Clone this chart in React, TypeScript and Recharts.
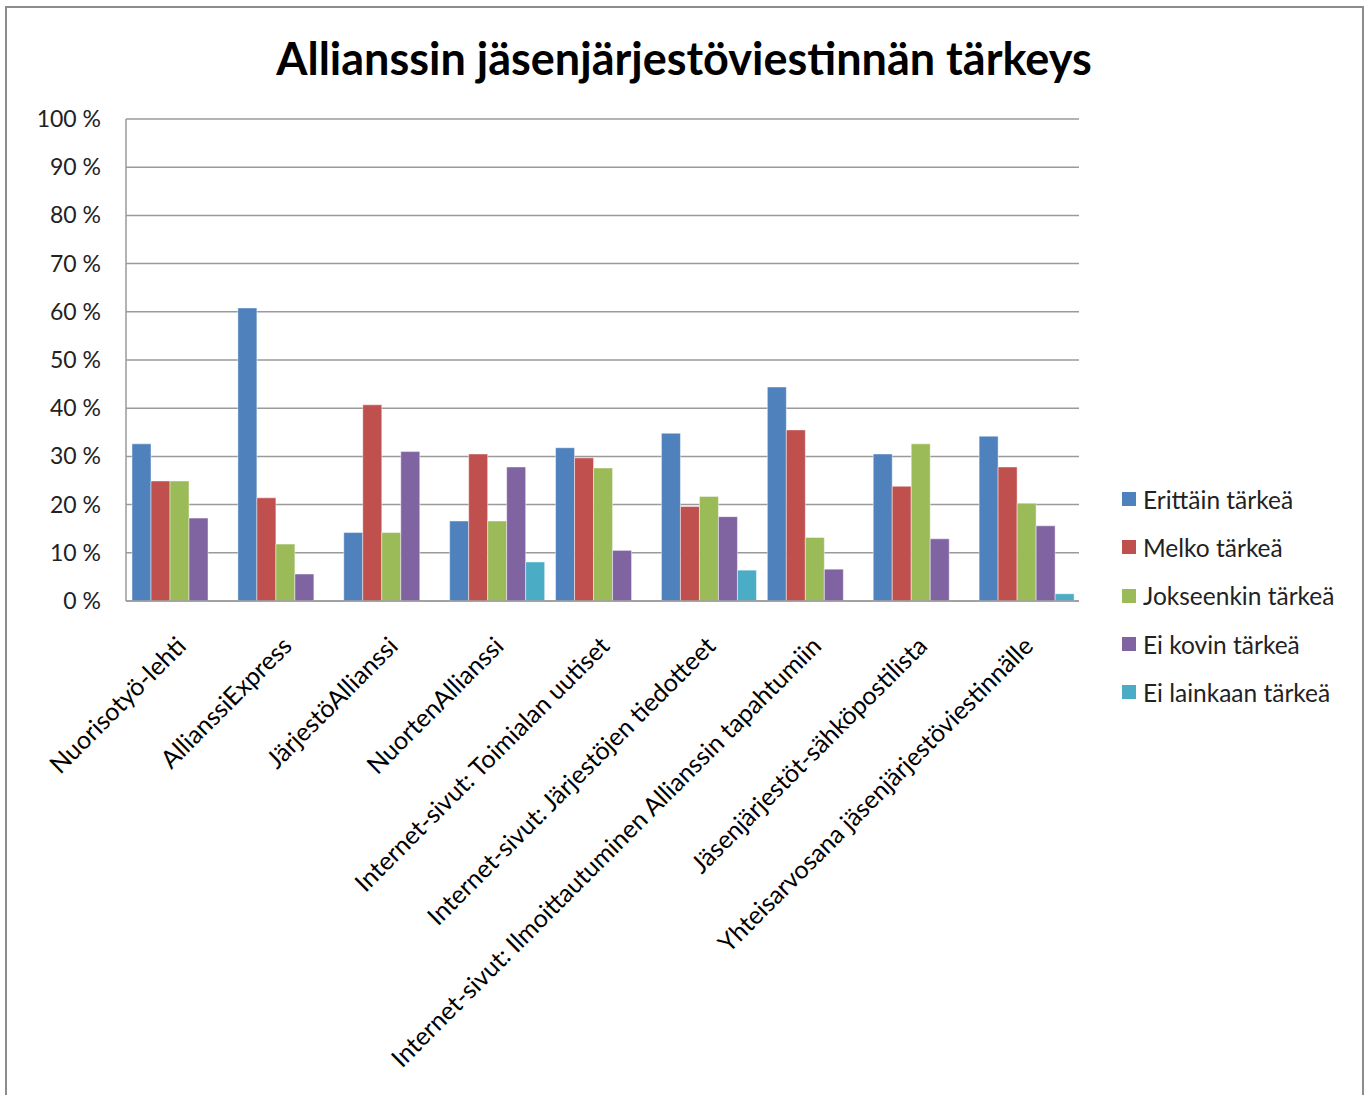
import { BarChart, Bar, XAxis, YAxis, CartesianGrid } from 'recharts';

const categories = [
  'Nuorisotyö-lehti',
  'AllianssiExpress',
  'JärjestöAllianssi',
  'NuortenAllianssi',
  'Internet-sivut: Toimialan uutiset',
  'Internet-sivut: Järjestöjen tiedotteet',
  'Internet-sivut: Ilmoittautuminen Allianssin tapahtumiin',
  'Jäsenjärjestöt-sähköpostilista',
  'Yhteisarvosana jäsenjärjestöviestinnälle',
];

const erittain = [32.6, 60.8, 14.2, 16.6, 31.8, 34.8, 44.4, 30.5, 34.2];
const melko = [24.9, 21.4, 40.7, 30.5, 29.7, 19.6, 35.5, 23.8, 27.8];
const jokseenkin = [24.9, 11.8, 14.2, 16.6, 27.6, 21.7, 13.2, 32.6, 20.3];
const eiKovin = [17.2, 5.6, 31.0, 27.8, 10.5, 17.5, 6.6, 12.9, 15.6];
const eiLainkaan = [null, null, null, 8.1, null, 6.4, null, null, 1.5];

const yTicks = [0, 10, 20, 30, 40, 50, 60, 70, 80, 90, 100];

const series = [
  { key: 'e1', name: 'Erittäin tärkeä', color: '#4F81BD', values: erittain },
  { key: 'e2', name: 'Melko tärkeä', color: '#C0504D', values: melko },
  { key: 'e3', name: 'Jokseenkin tärkeä', color: '#9BBB59', values: jokseenkin },
  { key: 'e4', name: 'Ei kovin tärkeä', color: '#8064A2', values: eiKovin },
  { key: 'e5', name: 'Ei lainkaan tärkeä', color: '#4BACC6', values: eiLainkaan },
];

const data = categories.map((name, i) => {
  const row: Record<string, string | number | null> = { name };
  series.forEach((s) => {
    row[s.key] = s.values[i];
  });
  return row;
});

const FONT = 'Lato, "Open Sans", sans-serif';

function XTick({ x, y, payload }: any) {
  return (
    <g transform={`translate(${x + 3},${y + 33})`}>
      <text
        transform="rotate(-45)"
        textAnchor="end"
        dy={8}
        fontSize={25}
        fill="#000"
        fontFamily={FONT}
      >
        {payload.value}
      </text>
    </g>
  );
}

function YTick({ y, payload }: any) {
  return (
    <text x={101} y={y} dy={8} textAnchor="end" fontSize={23} fill="#222" fontFamily={FONT}>
      {`${payload.value} %`}
    </text>
  );
}

function LegendBox() {
  return (
    <div
      style={{
        position: 'absolute',
        left: 1122,
        top: 475,
        fontFamily: FONT,
        fontSize: 24.5,
        color: '#222',
      }}
    >
      {series.map((s) => (
        <div key={s.key} style={{ display: 'flex', alignItems: 'center', height: 48.3 }}>
          <span
            style={{ width: 14, height: 14, background: s.color, display: 'inline-block', marginRight: 7 }}
          />
          <span>{s.name}</span>
        </div>
      ))}
    </div>
  );
}

export default function App() {
  return (
    <div
      style={{
        position: 'absolute',
        left: 0,
        top: 0,
        width: 1370,
        height: 1095,
        background: '#fff',
        overflow: 'hidden',
      }}
    >
      <div
        style={{
          position: 'absolute',
          left: 5,
          top: 6,
          width: 1355,
          height: 1120,
          border: '2px solid #8c8c8c',
        }}
      />
      <div
        style={{
          position: 'absolute',
          left: 0,
          top: 31,
          width: 1368,
          textAlign: 'center',
          fontFamily: FONT,
          fontWeight: 'bold',
          fontSize: 45,
          color: '#000',
        }}
      >
        Allianssin jäsenjärjestöviestinnän tärkeys
      </div>
      <div style={{ position: 'absolute', left: 0, top: 0 }}>
        <BarChart
          width={1370}
          height={1095}
          data={data}
          margin={{ top: 119, right: 291, bottom: 194, left: 0 }}
          barCategoryGap={6}
          barGap={0}
        >
          <CartesianGrid vertical={false} stroke="#9a9a9a" strokeWidth={1.5} />
          <XAxis
            dataKey="name"
            height={300}
            interval={0}
            tickLine={false}
            axisLine={{ stroke: '#9a9a9a', strokeWidth: 1.5 }}
            tick={<XTick />}
          />
          <YAxis
            width={126}
            domain={[0, 100]}
            ticks={yTicks}
            tickLine={false}
            axisLine={{ stroke: '#9a9a9a', strokeWidth: 1.5 }}
            tick={<YTick />}
          />
          {series.map((s) => (
            <Bar
              key={s.key}
              dataKey={s.key}
              name={s.name}
              fill={s.color}
              stroke="#ffffff"
              strokeOpacity={0.45}
              strokeWidth={1}
              isAnimationActive={false}
            />
          ))}
        </BarChart>
      </div>
      <LegendBox />
    </div>
  );
}
